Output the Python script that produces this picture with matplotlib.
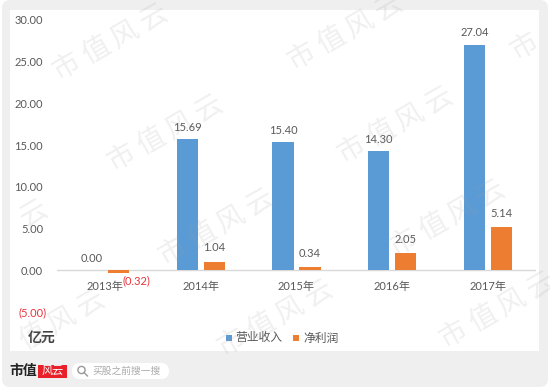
import numpy as np
import matplotlib
matplotlib.use("Agg")
import matplotlib.pyplot as plt
from matplotlib.patches import FancyBboxPatch, Rectangle, Circle
from matplotlib.transforms import ScaledTranslation

plt.rcParams['font.family'] = ['Lato', 'Noto Sans CJK SC', 'DejaVu Sans']

# data
years = ['2013年', '2014年', '2015年', '2016年', '2017年']
revenue = [0.00, 15.69, 15.40, 14.30, 27.04]
profit = [-0.32, 1.04, 0.34, 2.05, 5.14]
y_ticks = [-5, 0, 5, 10, 15, 20, 25, 30]

BLUE = '#5b9bd5'
ORANGE = '#ed7d31'
GREY = '#595959'
RED = '#e8343c'
CJK = ['Noto Sans CJK SC', 'DejaVu Sans']

W, H = 550, 389
fig = plt.figure(figsize=(W / 100, H / 100), dpi=100, facecolor='white')

# background in pixel coordinates
bg = fig.add_axes([0, 0, 1, 1], zorder=0)
bg.set_xlim(0, W)
bg.set_ylim(H, 0)
bg.axis('off')
bg.add_patch(FancyBboxPatch((2, 0), 546, 387, boxstyle='round,pad=0,rounding_size=8',
                            fc='#efefef', ec='none'))
bg.add_patch(Rectangle((10, 10), 529, 341, fc='white', ec='none'))

# chart
ax = fig.add_axes([57 / W, 1 - 312 / H, 479 / W, 292 / H], zorder=1)
ax.patch.set_alpha(0)
x = np.arange(len(years))
ax.bar(x - 0.141, revenue, 0.22, color=BLUE)
ax.bar(x + 0.141, profit, 0.22, color=ORANGE)
ax.set_xlim(-0.5, 4.5)
ax.set_ylim(-5, 30)
for s in ax.spines.values():
    s.set_visible(False)
ax.axhline(0, color='#d9d9d9', lw=1, zorder=0)
ax.set_xticks([])
ax.set_yticks(y_ticks)
ax.set_yticklabels(['(5.00)' if v < 0 else '%.2f' % v for v in y_ticks], fontsize=8, color=GREY)
ax.tick_params(axis='y', length=0, pad=10)
red_lbl = ax.get_yticklabels()[0]
red_lbl.set_color(RED)
red_lbl.set_transform(red_lbl.get_transform() + ScaledTranslation(2.5 / 72, 0, fig.dpi_scale_trans))

for i in range(len(years)):
    ax.annotate(years[i], (i, 0), xytext=(0, -12), textcoords='offset points', ha='center',
                va='center', fontsize=8, color=GREY)
    ax.annotate('%.2f' % revenue[i], (i - 0.141, revenue[i]), xytext=(0, 8.5), textcoords='offset points',
                ha='center', va='center', fontsize=8, color=GREY)
    if profit[i] < 0:
        ax.annotate('(%.2f)' % abs(profit[i]), (i + 0.141, 0), xytext=(13, -7.5), textcoords='offset points',
                    ha='center', va='center', fontsize=8, color=RED)
    else:
        ax.annotate('%.2f' % profit[i], (i + 0.141, profit[i]), xytext=(0, 10), textcoords='offset points',
                    ha='center', va='center', fontsize=8, color=GREY)

# legend and unit
over = fig.add_axes([0, 0, 1, 1], zorder=2)
over.set_xlim(0, W)
over.set_ylim(H, 0)
over.axis('off')
over.text(42, 338, '亿元', fontsize=10, family=CJK, color='#404040', ha='center', va='center', weight='bold')
over.add_patch(Rectangle((226, 335), 6, 6, fc=BLUE, ec='none'))
over.text(235, 338, '营业收入', fontsize=8.5, family=CJK, color=GREY, va='center')
over.add_patch(Rectangle((293, 335), 6, 6, fc=ORANGE, ec='none'))
over.text(303, 338, '净利润', fontsize=8.5, family=CJK, color=GREY, va='center')

# footer
over.text(23, 371.5, '市值', fontsize=10, family=CJK, weight='bold',
          color='#222222', ha='center', va='center')
over.add_patch(Rectangle((38, 365), 29, 13, fc='#e8202a', ec='none'))
over.text(52.5, 371, '风云', fontsize=8, family=CJK, color='white', ha='center', va='center')
over.add_patch(FancyBboxPatch((72, 363), 97, 16, boxstyle='round,pad=0,rounding_size=8', fc='white', ec='none'))
over.add_patch(Circle((81.5, 370), 3.6, fc='none', ec='#999999', lw=1))
over.plot([84, 87.5], [372.5, 376], color='#999999', lw=1)
over.text(92, 371, '买股之前搜一搜', fontsize=7, family=CJK, color='#aaaaaa', va='center')

# watermark, one glyph at a time so the wide spacing comes out
marks = [(110, 42), (165, 133), (216, 227), (275, 318), (325, 412), (47, 328), (-10, 238),
         (345, 32), (395, 125), (447, 218), (497, 310), (568, 22)]
angle = np.deg2rad(30)
for mx, my in marks:
    for k, ch in enumerate('市值风云'):
        cx = mx + (k - 1.5) * 33 * np.cos(angle)
        cy = my - (k - 1.5) * 33 * np.sin(angle)
        if 6 < cx < W - 6 and 6 < cy < H - 6:
            over.text(cx, cy, ch, fontsize=20, family=CJK, color='#a0a0a0', alpha=0.16, rotation=30,
                      ha='center', va='center')

fig.savefig('out.png', dpi=100)
